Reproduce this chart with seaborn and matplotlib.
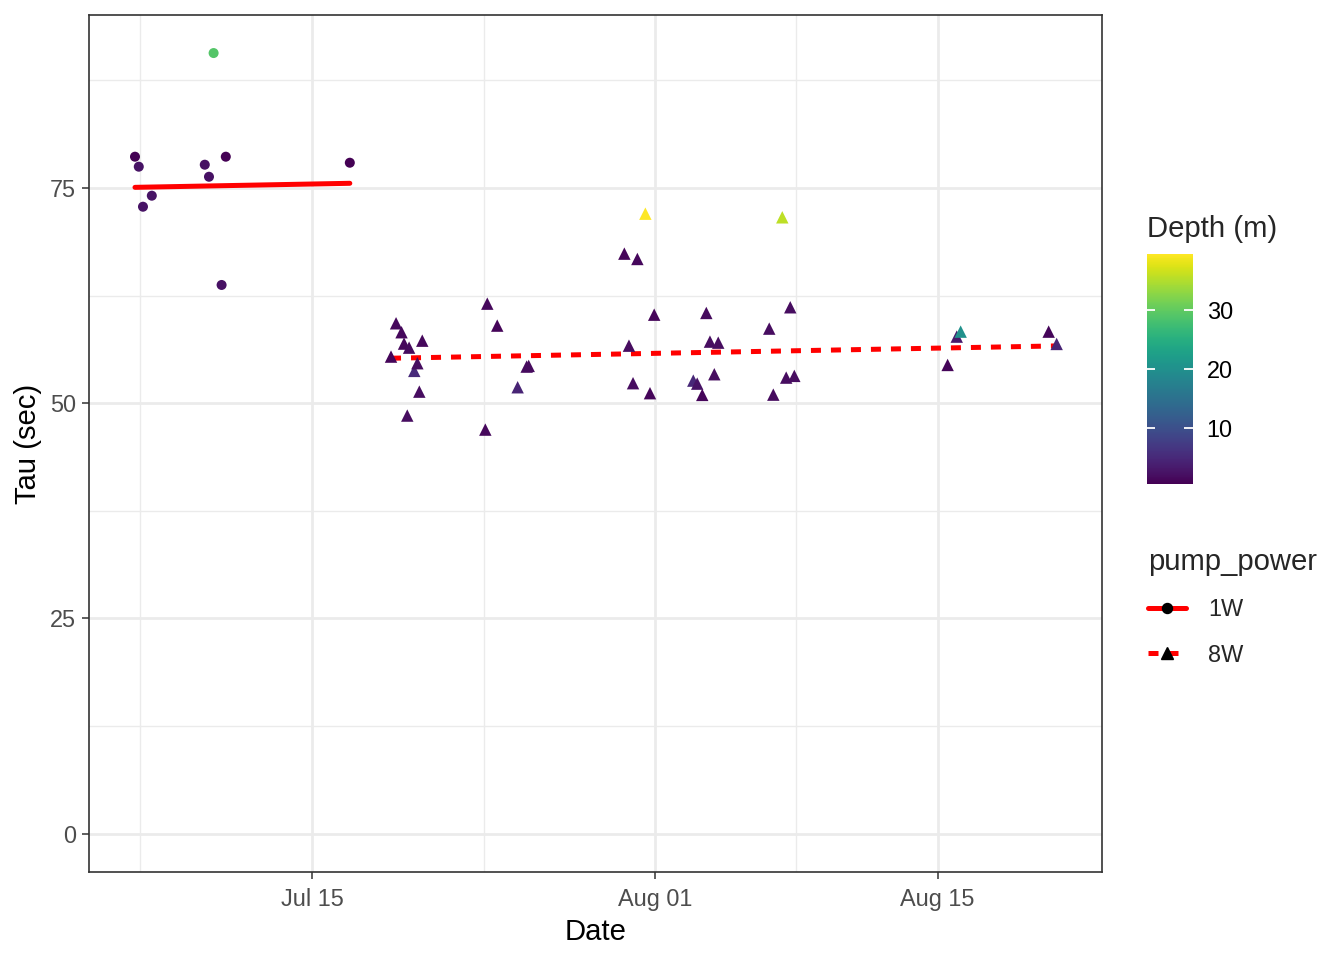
import matplotlib
matplotlib.use('Agg')
import matplotlib.pyplot as plt
import matplotlib.dates as mdates
import matplotlib.colors as mcolors
import matplotlib.colorbar as mcolorbar
from matplotlib.lines import Line2D
import seaborn as sns
import pandas as pd

# 1W pump runs
dates_1w = ['2023-07-06 05:30', '2023-07-06 10:00', '2023-07-06 15:00', '2023-07-07 01:30',
            '2023-07-09 16:30', '2023-07-09 21:30', '2023-07-10 03:00', '2023-07-10 12:30',
            '2023-07-10 17:30', '2023-07-16 21:00']
tau_1w = [78.64, 77.48, 72.83, 74.11, 77.71, 76.31, 90.68, 63.74, 78.64, 77.94]
depth_1w = [0.65, 2.6, 2.6, 2.6, 2.4, 2.4, 29.0, 2.4, 0.65, 0.65]

# 8W pump runs
dates_8w = ['2023-07-18 22:00', '2023-07-19 04:00', '2023-07-19 10:30', '2023-07-19 13:30',
            '2023-07-19 19:30', '2023-07-19 17:20', '2023-07-20 01:40', '2023-07-20 05:20',
            '2023-07-20 07:40', '2023-07-20 11:10', '2023-07-23 14:10', '2023-07-23 16:30',
            '2023-07-24 04:20', '2023-07-25 04:36', '2023-07-25 15:20', '2023-07-25 17:45',
            '2023-07-30 11:30', '2023-07-30 17:00', '2023-07-30 21:50', '2023-07-31 03:00',
            '2023-07-31 12:30', '2023-07-31 18:00', '2023-07-31 23:00', '2023-08-02 21:30',
            '2023-08-03 02:10', '2023-08-03 08:10', '2023-08-03 13:00', '2023-08-03 17:20',
            '2023-08-03 22:30', '2023-08-04 03:10', '2023-08-06 15:50', '2023-08-06 20:40',
            '2023-08-07 07:20', '2023-08-07 12:00', '2023-08-07 16:50', '2023-08-07 21:40',
            '2023-08-15 12:00', '2023-08-15 22:50', '2023-08-16 03:30', '2023-08-20 12:10',
            '2023-08-20 21:40']
tau_8w = [55.42, 59.29, 58.25, 56.93, 56.46, 48.57, 53.76, 54.65, 51.35, 57.27,
          46.94, 61.57, 59.02, 51.86, 54.26, 54.34, 67.38, 56.69, 52.33, 66.76,
          72.02, 51.17, 60.29, 52.63, 52.28, 50.97, 60.49, 57.16, 53.37, 57.04,
          58.67, 51.00, 71.60, 52.98, 61.15, 53.18, 54.45, 57.74, 58.32, 58.32,
          56.89]
depth_8w = [1.2, 1.5, 1.5, 1.5, 1.8, 2.0, 5.3, 2.0, 2.0, 1.5,
            1.5, 1.5, 1.2, 4.5, 1.8, 1.8, 1.2, 2.0, 2.0, 1.5,
            39.45, 1.2, 1.2, 5.0, 2.5, 1.2, 1.8, 2.0, 2.0, 2.0,
            2.0, 1.8, 35.6, 2.0, 2.0, 2.0, 1.2, 3.3, 20.2, 1.2,
            4.5]

# linear trend endpoints per pump power
trend_power = ['1W', '1W', '8W', '8W']
trend_dates = ['2023-07-06 05:30', '2023-07-16 21:00', '2023-07-18 22:00', '2023-08-20 21:40']
trend_tau = [75.08, 75.55, 55.23, 56.66]

# axis breaks
major_dates = ['2023-07-15 00:00', '2023-08-01 00:00', '2023-08-15 00:00']
minor_dates = ['2023-07-06 12:00', '2023-07-23 12:00', '2023-08-08 00:00']
depth_ticks = [10, 20, 30]

pts_1w = pd.DataFrame({'date': pd.to_datetime(dates_1w), 'tau': tau_1w, 'depth': depth_1w,
                       'pump_power': '1W'})
pts_8w = pd.DataFrame({'date': pd.to_datetime(dates_8w), 'tau': tau_8w, 'depth': depth_8w,
                       'pump_power': '8W'})
trend = pd.DataFrame({'date': pd.to_datetime(trend_dates), 'tau': trend_tau,
                      'pump_power': trend_power})

dmin = min(depth_1w + depth_8w)
dmax = max(depth_1w + depth_8w)

sns.set_theme(style='white')
plt.rcParams['font.family'] = ['Liberation Sans', 'DejaVu Sans']

fig = plt.figure(figsize=(13.44, 9.6), dpi=100)
ax = fig.add_axes([89 / 1344, 1 - 872 / 960, (1102 - 89) / 1344, (872 - 15) / 960])

sns.lineplot(data=trend, x='date', y='tau', style='pump_power',
             dashes={'1W': '', '8W': (2, 2)}, color='red', lw=3.6,
             legend=False, ax=ax, zorder=2)
sns.scatterplot(data=pts_1w, x='date', y='tau', hue='depth', palette='viridis',
                hue_norm=(dmin, dmax), marker='o', s=52, linewidth=0,
                legend=False, ax=ax, zorder=3)
sns.scatterplot(data=pts_8w, x='date', y='tau', hue='depth', palette='viridis',
                hue_norm=(dmin, dmax), marker='^', s=80, linewidth=0,
                legend=False, ax=ax, zorder=3)

# axes styling, theme_bw look
x0 = pd.Timestamp('2023-07-15')
ax.set_xlim(x0 + pd.Timedelta(days=-11.05), x0 + pd.Timedelta(days=39.15))
ax.set_ylim(-4.45, 95.1)
ax.set_xticks(pd.to_datetime(major_dates))
ax.xaxis.set_major_formatter(mdates.DateFormatter('%b %d'))
ax.set_xticks(pd.to_datetime(minor_dates), minor=True)
ax.set_yticks([0, 25, 50, 75])
ax.set_yticks([12.5, 37.5, 62.5, 87.5], minor=True)
ax.grid(which='major', color='#EBEBEB', lw=2.0)
ax.grid(which='minor', color='#EBEBEB', lw=1.0)
ax.set_axisbelow(True)
for sp in ax.spines.values():
    sp.set_color('#333333')
    sp.set_linewidth(1.2)
    sp.set_visible(True)
ax.tick_params(which='major', length=5.3, width=1.1, color='#333333',
               labelcolor='#4D4D4D', labelsize=16.9, pad=4.2,
               bottom=True, left=True)
ax.tick_params(axis='x', which='major', pad=6.2)
ax.tick_params(which='minor', length=0)
ax.set_xlabel('Date', fontsize=21.1, color='black', labelpad=5.3)
ax.set_ylabel('Tau (sec)', fontsize=21.1, color='black', labelpad=5.3)

# colour bar for depth
cax = fig.add_axes([1147 / 1344, 1 - 483.7 / 960, 45.7 / 1344, (483.7 - 254) / 960])
cb = mcolorbar.ColorbarBase(cax, cmap=plt.get_cmap('viridis'),
                            norm=mcolors.Normalize(dmin, dmax), orientation='vertical')
cb.outline.set_visible(False)
cb.set_ticks(depth_ticks)
cax.tick_params(length=0, labelleft=False, labelright=True, right=True,
                labelsize=16.9, labelcolor='black', pad=10)
# white tick marks on both edges of the bar, as in ggplot
cax.hlines(depth_ticks, 0, 0.18, color='white', lw=1.3, zorder=5)
cax.hlines(depth_ticks, 0.82, 1, color='white', lw=1.3, zorder=5)
fig.text(1147 / 1344, 1 - 229 / 960, 'Depth (m)', fontsize=21.1, va='center', ha='left')

# legend for pump power
handles = [
    Line2D([0], [0], color='red', lw=3.6, marker='o', markersize=7.2,
           markerfacecolor='black', markeredgecolor='black'),
    Line2D([0], [0], color='red', lw=3.6, ls=(0, (2, 2)), marker='^', markersize=9,
           markerfacecolor='black', markeredgecolor='black'),
]
fig.legend(handles, ['1W', '8W'], title='pump_power', loc='upper left',
           bbox_to_anchor=(1148 / 1344, 1 - 548 / 960), frameon=False,
           fontsize=16.9, title_fontsize=21.1, alignment='left',
           handlelength=1.6, handletextpad=0.95, labelspacing=0.95,
           borderpad=0, borderaxespad=0, numpoints=1)

plt.savefig('out.png', dpi=100)
